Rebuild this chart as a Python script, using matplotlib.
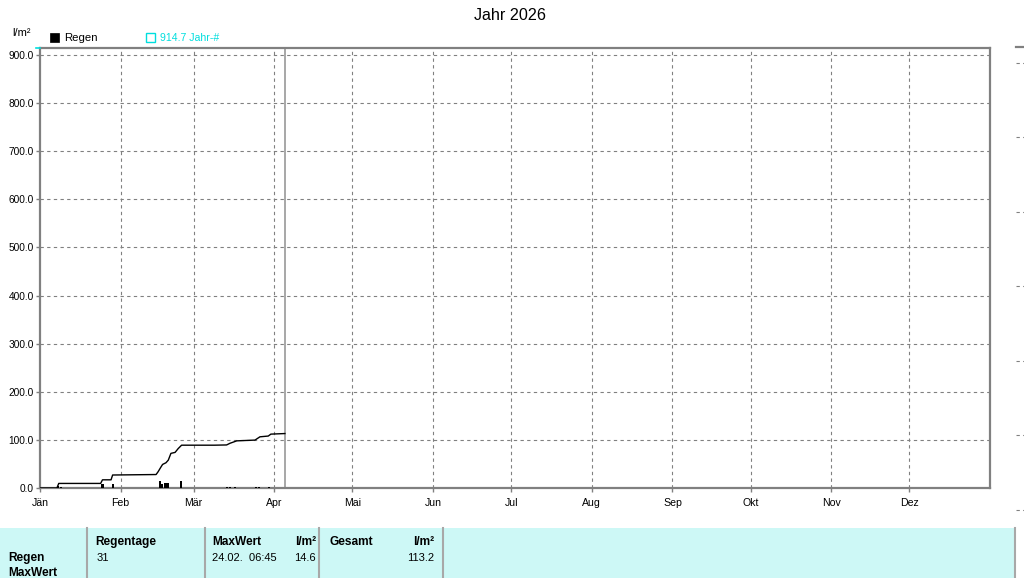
import matplotlib
matplotlib.use("Agg")
import matplotlib.pyplot as plt
from matplotlib.patches import Rectangle
from matplotlib.lines import Line2D

plt.rcParams['font.family'] = ['Liberation Sans', 'DejaVu Sans']

# ---------------- data ----------------
title = "Jahr 2026"
unit = "l/m²"
month_labels = ["Jän", "Feb", "Mär", "Apr", "Mai", "Jun", "Jul", "Aug", "Sep", "Okt", "Nov", "Dez"]
month_starts = [0, 31, 59, 90, 120, 151, 181, 212, 243, 273, 304, 334]
year_days = 365
y_ticks = [0, 100, 200, 300, 400, 500, 600, 700, 800, 900]
y_max = 914.7

# daily rain bars (day of year, l/m²)
rain_days = [7, 8, 24, 28, 46, 47, 48, 49, 54, 72, 73, 75, 83, 84, 88]
rain_vals = [4.0, 3.0, 8.0, 8.0, 15.0, 7.6, 9.7, 11.0, 14.6, 2.0, 1.5, 1.5, 2.0, 1.5, 1.5]

# cumulative rain (day of year, l/m²)
cum_days = [0, 6.5, 7.2, 23.3, 24.0, 27.3, 27.9, 44.6, 45.4, 46.4, 47.1, 48.4, 49.3,
            50.3, 51.9, 53.1, 54.4, 67.0, 71.7, 73.0, 75.6, 82.6, 84.5, 87.7, 88.7, 94.1]
cum_vals = [0, 0, 9.5, 9.5, 17.0, 17.0, 27.0, 28.0, 34.0, 43.0, 49.0, 52.5, 58.0,
            72.0, 74.0, 82.0, 89.0, 89.0, 89.5, 93.0, 98.0, 99.6, 106.4, 108.0, 112.0, 113.2]
today_day = 94.1

legend_rain = "Regen"
legend_year = "914.7 Jahr-#"

# table
row_labels = ["Regen", "MaxWert"]
rain_day_header = "Regentage"
rain_day_count = "31"
max_header = "MaxWert"
max_time = "24.02.  06:45"
max_value = "14.6"
total_header = "Gesamt"
total_value = "113.2"

# ---------------- styling ----------------
W, H = 1024, 578
fig = plt.figure(figsize=(W / 100, H / 100), dpi=100)
fig.patch.set_facecolor('white')

gray = '#808080'
cyan = '#00dede'
fs = 7.3
fs_tab = 8.0
fs_tab_b = 8.6

def fx(px):
    return px / W

def fy(py):
    return 1 - py / H

# main axes
L, R, T, B = 40, 990, 48, 488
ax = fig.add_axes([fx(L), fy(B), fx(R - L), (B - T) / H])
ax.set_xlim(0, year_days)
ax.set_ylim(0, y_max)

ax.bar(rain_days, rain_vals, width=0.8, color='black', align='center', zorder=3)
ax.plot(cum_days, cum_vals, color='black', lw=1.0, zorder=4)
ax.axvline(today_day, color='#909090', lw=1.1, zorder=2)

ax.set_xticks(month_starts)
ax.set_xticklabels(month_labels, fontsize=7.6)
ax.set_yticks(y_ticks)
ax.set_yticklabels([f"{v:.1f}" for v in y_ticks], fontsize=fs)
ax.tick_params(axis='both', color=gray, length=3, width=1)
ax.tick_params(axis='x', pad=4)
ax.tick_params(axis='y', pad=1.5)

for v in y_ticks[1:]:
    ax.axhline(v, color=gray, lw=0.8, ls=(0, (3, 3)), zorder=1)
for m in month_starts[1:]:
    ax.axvline(m, color=gray, lw=0.8, ls=(0, (3, 3)), zorder=1)

for s in ax.spines.values():
    s.set_color(gray)
    s.set_linewidth(1.6)

# cyan top-left tick
ax.plot([-0.004, 0], [y_max, y_max], color=cyan, lw=1.2,
        transform=ax.get_yaxis_transform(), clip_on=False, zorder=5)

# partial right panel
rp_top, rp_bot = 47, 584.5
ax2 = fig.add_axes([fx(1016), fy(rp_bot), 0.2, (rp_bot - rp_top) / H])
ax2.set_xlim(0, 1)
ax2.set_ylim(0, rp_bot - rp_top)
for k in range(1, 8):
    ax2.axhline(74.5 * k, color=gray, lw=0.8, ls=(0, (3, 3)))
ax2.set_xticks([])
ax2.set_yticks([])
for name, s in ax2.spines.items():
    if name == 'top':
        s.set_color(gray)
        s.set_linewidth(1.6)
    else:
        s.set_visible(False)

# overlay in pixel coordinates
ov = fig.add_axes([0, 0, 1, 1], zorder=10)
ov.set_xlim(0, W)
ov.set_ylim(H, 0)
ov.axis('off')
ov.patch.set_alpha(0)

ov.text(510, 16, title, fontsize=11.6, ha='center', va='center')
ov.text(12, 33, unit, fontsize=8, ha='left', va='center')

ov.add_patch(Rectangle((50, 33), 9, 9, facecolor='black', edgecolor='black', lw=0.5))
ov.text(64, 38, legend_rain, fontsize=8.2, ha='left', va='center')
ov.add_patch(Rectangle((146, 33), 9, 9, facecolor='none', edgecolor=cyan, lw=1.0))
ov.text(160, 38, legend_year, fontsize=7.6, ha='left', va='center', color=cyan)

# table
ov.add_patch(Rectangle((0, 528), 1015, 50, facecolor='#cdf8f6', edgecolor='none'))
for x in [87, 205, 319, 443, 1015]:
    ov.add_line(Line2D([x, x], [528, 578], color='#a8a8a8', lw=1.5))

ov.text(95, 542, rain_day_header, fontsize=fs_tab_b, fontweight='bold', ha='left', va='center')
ov.text(97, 558, rain_day_count, fontsize=fs_tab, ha='left', va='center')
ov.text(212, 542, max_header, fontsize=fs_tab_b, fontweight='bold', ha='left', va='center')
ov.text(316, 542, unit, fontsize=fs_tab_b, fontweight='bold', ha='right', va='center')
ov.text(212, 558, max_time, fontsize=fs_tab, ha='left', va='center')
ov.text(316, 558, max_value, fontsize=fs_tab, ha='right', va='center')
ov.text(330, 542, total_header, fontsize=fs_tab_b, fontweight='bold', ha='left', va='center')
ov.text(434, 542, unit, fontsize=fs_tab_b, fontweight='bold', ha='right', va='center')
ov.text(434, 558, total_value, fontsize=fs_tab, ha='right', va='center')
ov.text(8, 558, row_labels[0], fontsize=fs_tab_b, fontweight='bold', ha='left', va='center')
ov.text(8, 573, row_labels[1], fontsize=fs_tab_b, fontweight='bold', ha='left', va='center')

fig.savefig('out.png', dpi=100)
